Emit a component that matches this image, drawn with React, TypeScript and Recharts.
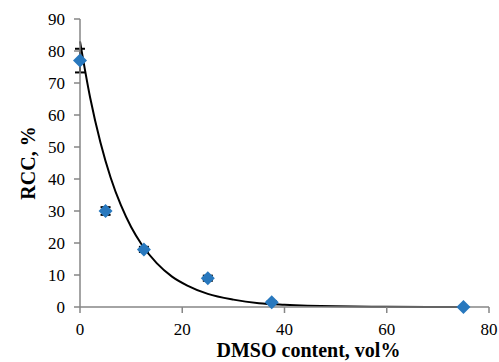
import { ComposedChart, Line, Scatter, XAxis, YAxis, ErrorBar, Label } from 'recharts'

// measured points (DMSO vol%, RCC %, error)
const dmso = [0, 5, 12.5, 25, 37.5, 75]
const rcc = [77, 30, 18, 9, 1.5, 0]
const rccErr = [3.7, 1.2, 0.8, 0.8, 0.3, 0]

// fitted curve
const fitX = [0, 2, 4, 6, 8, 10, 12, 15, 18, 21, 25, 30, 35, 40, 50, 60, 75]
const fitY = [83, 65.3, 51.4, 40.4, 31.8, 25, 19.7, 13.7, 9.5, 6.7, 4.1, 2.3, 1.2, 0.7, 0.2, 0.06, 0.01]

const xTicks = [0, 20, 40, 60, 80]
const yTicks = [0, 10, 20, 30, 40, 50, 60, 70, 80, 90]

const points = dmso.map((x, i) => ({ x, y: rcc[i], err: rccErr[i] }))
const fit = fitX.map((x, i) => ({ x, fit: fitY[i] }))

const FONT = 'Liberation Serif'
const AXIS = '#868686'

const Diamond = (props: any) => {
  const { cx, cy } = props
  if (cx == null || cy == null) return null
  const r = 7
  return (
    <polygon
      points={`${cx},${cy - r} ${cx + r},${cy} ${cx},${cy + r} ${cx - r},${cy}`}
      fill="#2878be"
    />
  )
}

// ticks placed from the axis position so the gap matches the original
const XTick = ({ x, payload }: any) => (
  <text x={x} y={335} textAnchor="middle" style={{ fontFamily: FONT, fontSize: 17 }} fill="#000">
    {payload.value}
  </text>
)

const YTick = ({ y, payload }: any) => (
  <text x={65} y={y + 6} textAnchor="end" style={{ fontFamily: FONT, fontSize: 17 }} fill="#000">
    {payload.value}
  </text>
)

export default function App() {
  return (
    <div style={{ position: 'absolute', left: 0, top: 0, width: 499, height: 362, background: '#fff', fontFamily: FONT }}>
      <ComposedChart width={499} height={362} margin={{ top: 19, right: 10, left: 0, bottom: 0 }}>
        <XAxis
          type="number"
          dataKey="x"
          domain={[0, 80]}
          ticks={xTicks}
          height={55}
          stroke={AXIS}
          strokeWidth={1.5}
          tickSize={6}
          tickLine={{ stroke: AXIS, strokeWidth: 1.5 }}
          tick={<XTick />}
        >
          <Label
            content={({ viewBox }: any) => (
              <text
                x={viewBox.x + viewBox.width / 2 + 24}
                y={viewBox.y + 50}
                textAnchor="middle"
                style={{ fontFamily: FONT, fontWeight: 'bold', fontSize: 20 }}
                fill="#000"
              >
                DMSO content, vol%
              </text>
            )}
          />
        </XAxis>
        <YAxis
          type="number"
          domain={[0, 90]}
          ticks={yTicks}
          width={80}
          stroke={AXIS}
          strokeWidth={1.5}
          tickSize={6}
          tickLine={{ stroke: AXIS, strokeWidth: 1.5 }}
          tick={<YTick />}
        >
          <Label
            content={({ viewBox }: any) => {
              const cx = 28
              const cy = viewBox.y + viewBox.height / 2
              return (
                <text
                  x={cx}
                  y={cy}
                  transform={`rotate(-90 ${cx} ${cy})`}
                  textAnchor="middle"
                  dominantBaseline="central"
                  style={{ fontFamily: FONT, fontWeight: 'bold', fontSize: 20 }}
                  fill="#000"
                >
                  RCC, %
                </text>
              )
            }}
          />
        </YAxis>
        <Line
          data={fit}
          dataKey="fit"
          type="monotone"
          stroke="#000"
          strokeWidth={2}
          dot={false}
          activeDot={false}
          isAnimationActive={false}
        />
        <Scatter data={points} dataKey="y" shape={Diamond} isAnimationActive={false}>
          <ErrorBar dataKey="err" direction="y" width={5} stroke="#000" strokeWidth={2} isAnimationActive={false} />
        </Scatter>
      </ComposedChart>
    </div>
  )
}
